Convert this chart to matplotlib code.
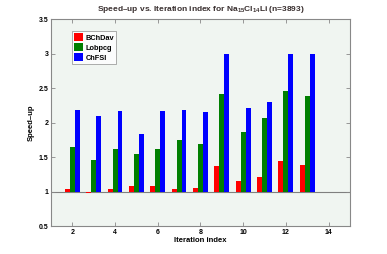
import matplotlib
matplotlib.use('Agg')
import matplotlib.pyplot as plt
import numpy as np

plt.rcParams['font.family'] = ['Liberation Sans', 'DejaVu Sans']
plt.rcParams['mathtext.fontset'] = 'custom'
plt.rcParams['mathtext.rm'] = 'Liberation Sans:bold'
plt.rcParams['mathtext.it'] = 'Liberation Sans:bold'

# Datos del gráfico (speed-up por iteración)
iteraciones = list(range(2, 14))
bchdav = [1.03, 0.98, 1.03, 1.08, 1.08, 1.04, 1.05, 1.37, 1.15, 1.21, 1.45, 1.39]
lobpcg = [1.65, 1.46, 1.61, 1.54, 1.61, 1.75, 1.69, 2.42, 1.87, 2.06, 2.46, 2.38]
chfsi = [2.18, 2.09, 2.17, 1.84, 2.17, 2.18, 2.16, 3.0, 2.21, 2.30, 3.0, 3.0]

fig = plt.figure(figsize=(3.87, 2.54), dpi=100)
ax = fig.add_axes([0.132, 0.110, 0.772, 0.815])
ax.set_facecolor('#f0f5f1')

x = np.array(iteraciones)
w = 0.23
base = 1.0
ax.bar(x - w, np.array(bchdav) - base, w, bottom=base, color='#ff0000', label='BChDav', edgecolor='none')
ax.bar(x, np.array(lobpcg) - base, w, bottom=base, color='#007f00', label='Lobpcg', edgecolor='none')
ax.bar(x + w, np.array(chfsi) - base, w, bottom=base, color='#0000ff', label='ChFSI', edgecolor='none')
ax.axhline(1, color='#7f7f7f', lw=0.8, zorder=0.5)

ax.set_xlim(1, 15)
ax.set_ylim(0.5, 3.5)
ax.set_xticks([2, 4, 6, 8, 10, 12, 14])
ax.set_yticks([0.5, 1, 1.5, 2, 2.5, 3, 3.5])
ax.set_yticklabels(['0.5', '1', '1.5', '2', '2.5', '3', '3.5'])
ax.tick_params(direction='in', top=True, right=True, labelsize=5, length=3,
               color='#888888', width=0.6, pad=2)
for t in ax.get_xticklabels() + ax.get_yticklabels():
    t.set_fontweight('bold')
for s in ax.spines.values():
    s.set_color('#888888')
    s.set_linewidth(0.8)

ax.set_xlabel('Iteration index', fontsize=5.5, fontweight='bold', labelpad=1)
ax.set_ylabel('Speed\u2013up', fontsize=5.5, fontweight='bold', labelpad=3)
ax.set_title('Speed\u2013up vs. Iteration index for Na$_{15}$Cl$_{14}$Li (n=3893)',
             fontsize=6, fontweight='bold', color='#3a3030', pad=6)

leg = ax.legend(loc='upper left', bbox_to_anchor=(0.07, 0.94),
                prop={'weight': 'bold', 'size': 5.3}, fancybox=False,
                handlelength=1.3, handleheight=1.3, borderpad=0.25,
                labelspacing=0.2, handletextpad=0.3, borderaxespad=0)
leg.get_frame().set_edgecolor('#888888')
leg.get_frame().set_linewidth(0.6)
leg.get_frame().set_facecolor('white')

fig.savefig('out.png', dpi=100)
